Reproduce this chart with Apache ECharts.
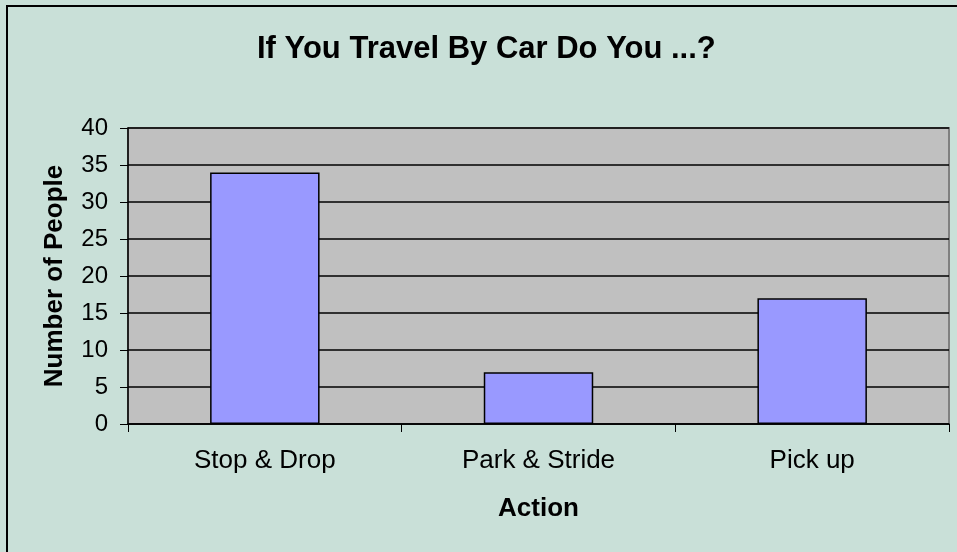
<!DOCTYPE html>
<html>
<head>
<meta charset="utf-8">
<script src="https://cdn.jsdelivr.net/npm/echarts@6/dist/echarts.min.js"></script>
<style>
  html, body { margin: 0; padding: 0; }
  #chart { width: 957px; height: 552px; }
</style>
</head>
<body>
<div id="chart"></div>
<script>
// data
const categories = ['Stop & Drop', 'Park & Stride', 'Pick up']
const people = [34, 7, 17]

const font = 'Liberation Sans, Arial, sans-serif'
const myChart = echarts.init(document.getElementById('chart'))
let option

option = {
  backgroundColor: '#c9e0d8',
  animation: false,
  title: {
    text: 'If You Travel By Car Do You ...?',
    left: 252,
    top: 29,
    textStyle: {
      fontFamily: font,
      fontSize: 31,
      fontWeight: 'bold',
      color: '#000'
    }
  },
  graphic: [
    {
      type: 'rect',
      shape: { x: 7, y: 6, width: 1200, height: 800 },
      style: { fill: 'none', stroke: '#000', lineWidth: 2 },
      silent: true
    }
  ],
  grid: {
    left: 128,
    right: 8,
    top: 128,
    bottom: 128,
    show: true,
    backgroundColor: '#c0c0c0',
    borderColor: '#808080',
    borderWidth: 2
  },
  xAxis: {
    type: 'category',
    data: categories,
    name: 'Action',
    nameLocation: 'middle',
    nameGap: 72,
    nameTextStyle: {
      fontFamily: font,
      fontSize: 26,
      fontWeight: 'bold',
      color: '#000'
    },
    axisLine: { lineStyle: { color: '#000', width: 1.5 } },
    axisTick: { show: true, length: 8, lineStyle: { color: '#000' } },
    axisLabel: {
      fontFamily: font,
      fontSize: 26,
      color: '#000',
      margin: 24
    }
  },
  yAxis: {
    type: 'value',
    min: 0,
    max: 40,
    interval: 5,
    name: 'Number of People',
    nameLocation: 'middle',
    nameGap: 60,
    nameTextStyle: {
      fontFamily: font,
      fontSize: 26,
      fontWeight: 'bold',
      color: '#000'
    },
    axisLine: { show: true, lineStyle: { color: '#000', width: 1.5 } },
    axisTick: { show: true, length: 8, lineStyle: { color: '#000' } },
    axisLabel: {
      fontFamily: font,
      fontSize: 24,
      color: '#000',
      margin: 20
    },
    splitLine: { lineStyle: { color: '#000', width: 1.5 } }
  },
  series: [
    {
      type: 'bar',
      data: people,
      barCategoryGap: '60%',
      itemStyle: {
        color: '#9999ff',
        borderColor: '#000',
        borderWidth: 1.5
      }
    }
  ]
}

option && myChart.setOption(option)
</script>
</body>
</html>
